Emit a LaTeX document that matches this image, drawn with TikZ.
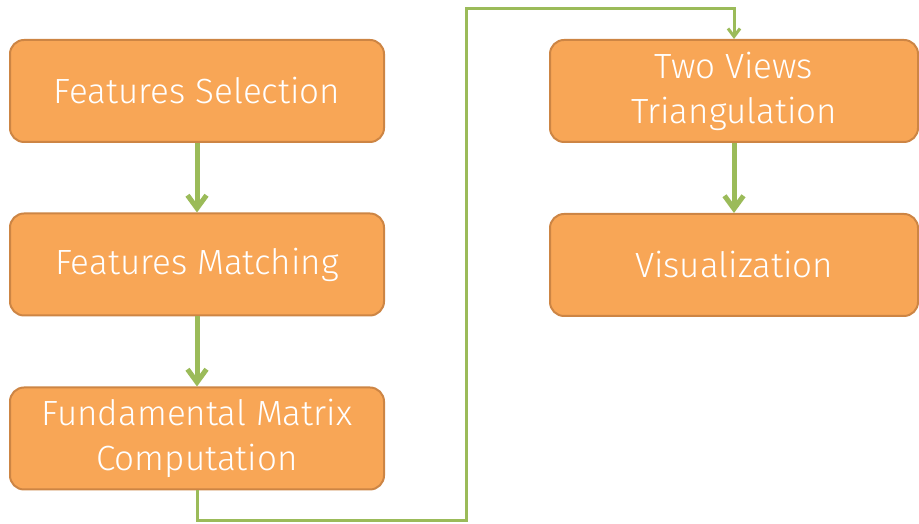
\documentclass[tikz,border=0pt]{standalone}
\usepackage{fontspec}
\setmainfont{Fira Sans Light}
\usetikzlibrary{arrows.meta}
\usepackage{xcolor}
\definecolor{boxfill}{RGB}{248,166,86}
\definecolor{boxline}{RGB}{205,133,68}
\definecolor{flowgreen}{RGB}{155,187,89}

\begin{document}
\begin{tikzpicture}
  [x=1pt,y=1pt,
   stage/.style={rectangle,rounded corners=14pt,draw=boxline,line width=2pt,
     fill=boxfill,minimum height=102pt,text=white,align=center,inner sep=0pt,
     font=\fontsize{35}{45}\selectfont},
   flow/.style={draw=flowgreen,line width=5pt,
     -{Straight Barb[length=13pt,width=19pt]}}]
  \useasboundingbox (0,0) rectangle (919,524);

  % left column
  \node[stage,minimum width=374pt] (sel) at (197,433)   {Features Selection};
  \node[stage,minimum width=374pt] (mat) at (197,259.5) {Features Matching};
  \node[stage,minimum width=374pt] (fun) at (197,85.5)  {Fundamental Matrix\\Computation};

  % right column
  \node[stage,minimum width=368pt] (tri) at (734,433) {Two Views\\Triangulation};
  \node[stage,minimum width=368pt] (vis) at (734,259) {Visualization};

  \coordinate (low)  at (466,3);
  \coordinate (high) at (466,515);

  \foreach \from/\to in {sel/mat,mat/fun,tri/vis}
    \draw[flow] (\from) -- (\to);

  \draw[flow,line width=3pt,-{Straight Barb[length=8pt,width=12pt]}]
    (fun.south) |- (low) -- (high) -| (tri.north);

\end{tikzpicture}
\end{document}
